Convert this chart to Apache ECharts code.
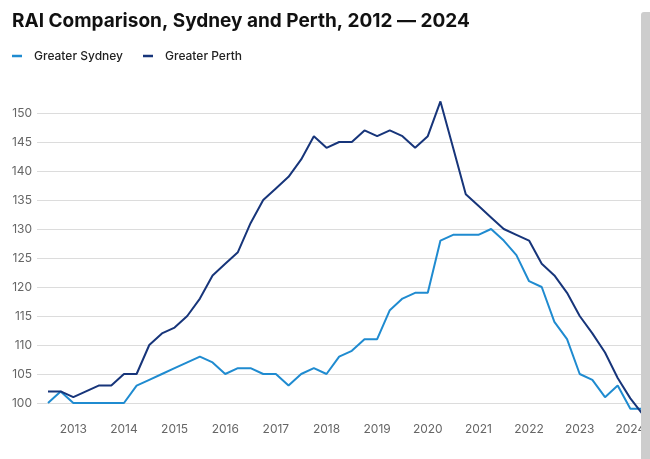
<!DOCTYPE html>
<html>
<head>
<meta charset="utf-8">
<script src="https://cdn.jsdelivr.net/npm/echarts@6/dist/echarts.min.js"></script>
<style>html,body{margin:0;padding:0;background:#fff}#c{width:650px;height:459px}</style>
</head>
<body>
<div id="c"></div>
<script>
const quarters = ['2012 Q3','2012 Q4',
  '2013 Q1','2013 Q2','2013 Q3','2013 Q4',
  '2014 Q1','2014 Q2','2014 Q3','2014 Q4',
  '2015 Q1','2015 Q2','2015 Q3','2015 Q4',
  '2016 Q1','2016 Q2','2016 Q3','2016 Q4',
  '2017 Q1','2017 Q2','2017 Q3','2017 Q4',
  '2018 Q1','2018 Q2','2018 Q3','2018 Q4',
  '2019 Q1','2019 Q2','2019 Q3','2019 Q4',
  '2020 Q1','2020 Q2','2020 Q3','2020 Q4',
  '2021 Q1','2021 Q2','2021 Q3','2021 Q4',
  '2022 Q1','2022 Q2','2022 Q3','2022 Q4',
  '2023 Q1','2023 Q2','2023 Q3','2023 Q4',
  '2024 Q1','2024 Q2'];
const sydney = [100,102,
  100,100,100,100,
  100,103,104,105,
  106,107,108,107,
  105,106,106,105,
  105,103,105,106,
  105,108,109,111,
  111,116,118,119,
  119,128,129,129,
  129,130,128,125.5,
  121,120,114,111,
  105,104,101,103,
  99,99];
const perth = [102,102,
  101,102,103,103,
  105,105,110,112,
  113,115,118,122,
  124,126,131,135,
  137,139,142,146,
  144,145,145,147,
  146,147,146,144,
  146,152,144,136,
  134,132,130,129,
  128,124,122,119,
  115,112,108.7,104.3,
  100.8,98];
const yTicks = [100,105,110,115,120,125,130,135,140,145,150];
const seriesNames = ['Greater Sydney','Greater Perth'];

const chart = echarts.init(document.getElementById('c'), null, {renderer:'canvas'});
const FONT = 'Inter, "Noto Sans", sans-serif';
chart.setOption({
  animation:false,
  title:{
    text:'RAI Comparison, Sydney and Perth, 2012 \u2014 2024',
    left:7, top:7,
    textStyle:{fontFamily:FONT, fontSize:19, fontWeight:'bold', color:'#111'}
  },
  legend:{
    data:seriesNames,
    left:7, top:45,
    icon:'rect', itemWidth:10, itemHeight:2.5, itemGap:20,
    textStyle:{fontFamily:FONT, fontSize:12, fontWeight:500, color:'#222', padding:[0,0,0,7]}
  },
  grid:[
    {left:37, right:8, top:113, bottom:56},
    {left:48, right:7, top:101.4, bottom:44.4}
  ],
  xAxis:[
    {gridIndex:0, type:'value', show:false, min:0, max:1},
    {gridIndex:1, type:'category', data:quarters, boundaryGap:false,
     axisLine:{show:false}, axisTick:{show:false},
     axisLabel:{interval:(i)=>i%4===2, formatter:(v)=>v.slice(0,4), margin:9,
       fontFamily:FONT, fontSize:12, color:'#666'}}
  ],
  yAxis:[
    {gridIndex:0, type:'value', min:yTicks[0], max:yTicks[yTicks.length-1], interval:5,
     axisLine:{show:false}, axisTick:{show:false},
     axisLabel:{margin:5, fontFamily:FONT, fontSize:12, color:'#666'},
     splitLine:{lineStyle:{color:'#dcdcdc', width:1.2}}},
    {gridIndex:1, type:'value', min:98, max:152, show:false, splitLine:{show:false}}
  ],
  series:[
    {name:seriesNames[0], type:'line', xAxisIndex:1, yAxisIndex:1, data:sydney,
     symbol:'none', clip:false, color:'#1f8bd0', lineStyle:{width:2, color:'#1f8bd0'}},
    {name:seriesNames[1], type:'line', xAxisIndex:1, yAxisIndex:1, data:perth,
     symbol:'none', clip:false, color:'#17357a', lineStyle:{width:2, color:'#17357a'}}
  ],
  graphic:[
    {type:'rect', shape:{x:641, y:12, width:9, height:447, r:[3,0,0,0]}, style:{fill:'#cdcdcd'}, z:100}
  ]
});
</script>
</body>
</html>
